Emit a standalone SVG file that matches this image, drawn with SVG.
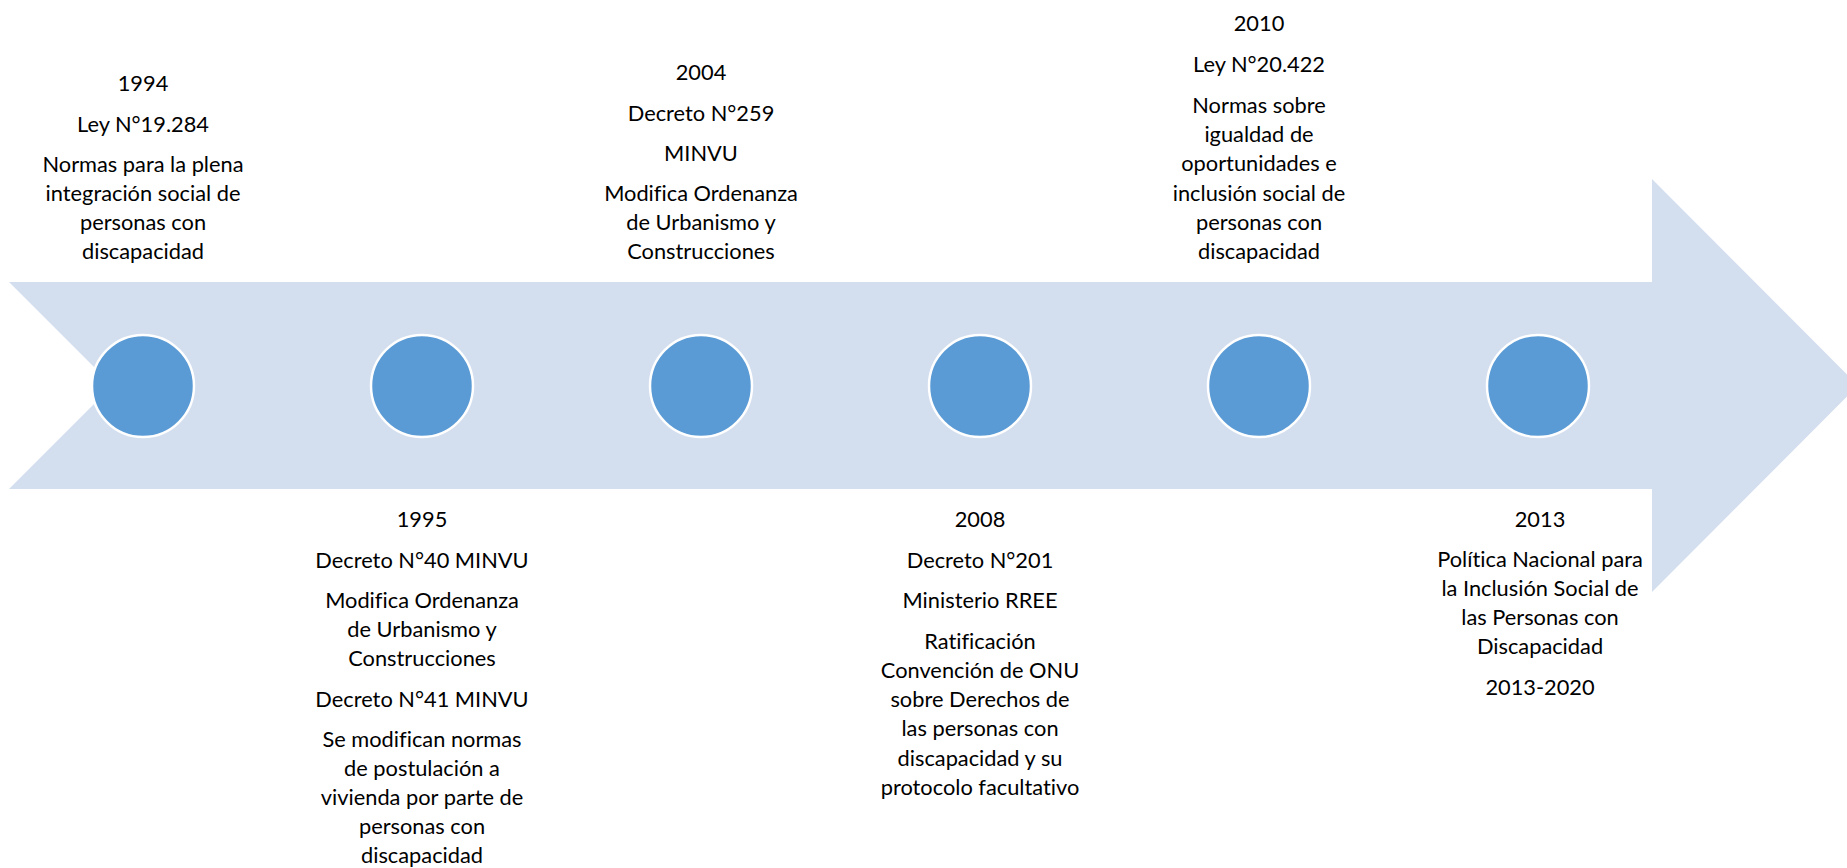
<svg xmlns="http://www.w3.org/2000/svg" width="1847" height="868" viewBox="0 0 1847 868">
<style>
.t{font-family:Lato,"Liberation Sans",sans-serif;font-size:21.8px;fill:#000;text-anchor:middle;font-variant-ligatures:none}
.dot{fill:#5B9BD5;stroke:#fff;stroke-width:2.5}
</style>
<rect width="1847" height="868" fill="#fff"/>
<g id="arrow">
<polygon points="9,282 1652,282 1652,179 1858,385.5 1652,592 1652,489 9,489 112.5,385.5" fill="#D3DEEF"/>
</g>
<g id="connectors"></g>
<g id="dots">
<circle class="dot" cx="143" cy="386" r="51"/>
<circle class="dot" cx="422" cy="386" r="51"/>
<circle class="dot" cx="701" cy="386" r="51"/>
<circle class="dot" cx="980" cy="386" r="51"/>
<circle class="dot" cx="1259" cy="386" r="51"/>
<circle class="dot" cx="1538" cy="386" r="51"/>
</g>
<g id="n1994" class="t">
<text x="143" y="91">1994</text>
<text x="143" y="132">Ley N°19.284</text>
<text x="143" y="172">Normas para la plena</text>
<text x="143" y="201">integración social de</text>
<text x="143" y="230">personas con</text>
<text x="143" y="259">discapacidad</text>
</g>
<g id="n1995" class="t">
<text x="422" y="527">1995</text>
<text x="422" y="568">Decreto N°40 MINVU</text>
<text x="422" y="608">Modifica Ordenanza</text>
<text x="422" y="637">de Urbanismo y</text>
<text x="422" y="666">Construcciones</text>
<text x="422" y="707">Decreto N°41 MINVU</text>
<text x="422" y="747">Se modifican normas</text>
<text x="422" y="776">de postulación a</text>
<text x="422" y="805">vivienda por parte de</text>
<text x="422" y="834">personas con</text>
<text x="422" y="863">discapacidad</text>
</g>
<g id="n2004" class="t">
<text x="701" y="80">2004</text>
<text x="701" y="121">Decreto N°259</text>
<text x="701" y="161">MINVU</text>
<text x="701" y="201">Modifica Ordenanza</text>
<text x="701" y="230">de Urbanismo y</text>
<text x="701" y="259">Construcciones</text>
</g>
<g id="n2008" class="t">
<text x="980" y="527">2008</text>
<text x="980" y="568">Decreto N°201</text>
<text x="980" y="608">Ministerio RREE</text>
<text x="980" y="649">Ratificación</text>
<text x="980" y="678">Convención de ONU</text>
<text x="980" y="707">sobre Derechos de</text>
<text x="980" y="736">las personas con</text>
<text x="980" y="766">discapacidad y su</text>
<text x="980" y="795">protocolo facultativo</text>
</g>
<g id="n2010" class="t">
<text x="1259" y="31">2010</text>
<text x="1259" y="72">Ley N°20.422</text>
<text x="1259" y="113">Normas sobre</text>
<text x="1259" y="142">igualdad de</text>
<text x="1259" y="171">oportunidades e</text>
<text x="1259" y="201">inclusión social de</text>
<text x="1259" y="230">personas con</text>
<text x="1259" y="259">discapacidad</text>
</g>
<g id="n2013" class="t">
<text x="1540" y="527">2013</text>
<text x="1540" y="567">Política Nacional para</text>
<text x="1540" y="596">la Inclusión Social de</text>
<text x="1540" y="625">las Personas con</text>
<text x="1540" y="654">Discapacidad</text>
<text x="1540" y="695">2013-2020</text>
</g>
</svg>
